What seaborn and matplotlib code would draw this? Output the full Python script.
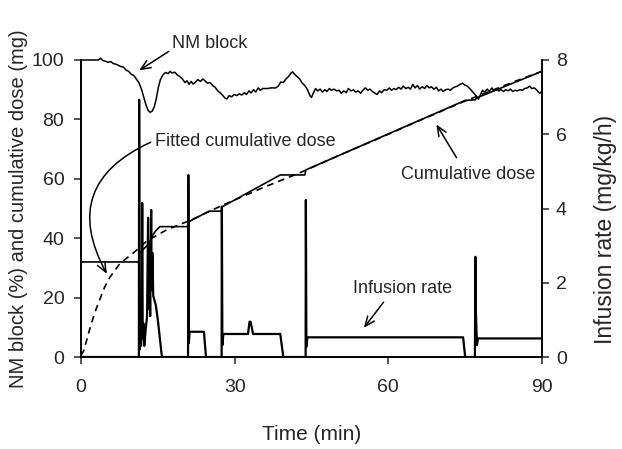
import numpy as np
import pandas as pd
import matplotlib
matplotlib.use("Agg")
import matplotlib.pyplot as plt
import seaborn as sns

# ---- data ----
# NM block (%), left axis
nm_time = [0, 3.4, 3.8, 4.3, 4.8, 5.3, 5.8, 6.3, 6.8, 7.3, 7.8, 8.3, 8.8, 9.3, 9.8, 10.3,
           10.8, 11.3, 11.8, 12.3, 12.7, 13.1, 13.5, 13.9, 14.3, 14.7, 15.1, 15.5, 16.0,
           16.5, 17.0, 17.4, 17.8, 18.3, 18.8, 19.3, 19.8, 20.3, 20.7, 21.1, 21.5, 21.9,
           22.4, 22.8, 23.3, 23.8, 24.2, 24.7, 25.2, 25.7, 26.2, 26.7, 27.2, 27.6, 28.1,
           28.5, 28.9, 29.4, 29.9, 30.4, 30.9, 31.4, 31.9, 32.3, 32.8, 33.2, 33.7, 34.1,
           34.6, 35.0, 35.5, 36.0, 36.5, 37.0, 37.5, 38.0, 38.5, 39.0, 39.5, 40.0, 40.5,
           41.0, 41.3, 41.7, 42.2, 42.7, 43.2, 43.7, 44.2, 44.7, 45.0, 45.4, 45.8, 46.2,
           46.7, 47.1, 47.6, 48.0, 48.5, 48.9, 49.4, 49.9, 50.4, 50.8, 51.3, 51.8, 52.2,
           52.7, 53.2, 53.6, 54.1, 54.6, 55.0, 55.5, 56.0, 56.4, 56.9, 57.4, 57.8, 58.3,
           58.7, 59.2, 59.7, 60.2, 60.6, 61.1, 61.5, 62.0, 62.5, 62.9, 63.4, 63.9, 64.3,
           64.8, 65.2, 65.7, 66.1, 66.6, 67.1, 67.5, 68.0, 68.4, 68.9, 69.4, 69.8, 70.3,
           70.7, 71.2, 71.7, 72.1, 72.6, 73.1, 73.5, 74.0, 74.5, 74.9, 75.4, 75.9, 76.3,
           76.8, 77.2, 77.6, 78.0, 78.4, 78.8, 79.3, 79.7, 80.2, 80.6, 81.1, 81.5, 82.0,
           82.5, 82.9, 83.4, 83.8, 84.3, 84.8, 85.2, 85.7, 86.2, 86.6, 87.1, 87.6, 88.0,
           88.5, 88.9, 89.3, 89.6, 90.0]
nm_block = [100, 100, 100.6, 99.8, 99.6, 99.2, 99.5, 98.8, 98.6, 98.2, 97.8, 97.6, 96.6,
            96.2, 95.2, 94.8, 93.6, 92.4, 90.2, 87.2, 84.8, 83.0, 82.4, 82.8, 84.2, 87.0,
            90.8, 93.4, 95.0, 95.8, 95.4, 96.2, 95.6, 95.9, 95.0, 94.4, 93.6, 92.4, 93.0,
            91.8, 92.8, 91.9, 92.6, 93.4, 92.8, 93.6, 93.0, 92.2, 92.4, 91.4, 90.8, 89.6,
            88.9, 88.2, 87.2, 86.9, 88.0, 87.6, 88.4, 88.0, 88.6, 88.2, 89.0, 88.4, 89.6,
            88.9, 90.0, 89.2, 90.6, 89.8, 90.4, 90.4, 90.4, 90.6, 90.6, 90.6, 91.2, 92.6,
            92.4, 93.6, 94.4, 95.6, 96.0, 95.2, 94.4, 93.6, 92.2, 91.4, 90.0, 88.0, 87.4,
            89.0, 90.4, 89.6, 90.2, 89.2, 90.0, 89.4, 90.4, 89.8, 90.2, 89.6, 89.8, 88.8,
            89.6, 89.0, 90.4, 89.6, 90.0, 89.2, 89.6, 88.8, 89.8, 90.6, 89.8, 90.2, 89.4,
            88.8, 88.4, 89.6, 89.0, 90.0, 89.8, 90.6, 89.8, 90.4, 90.0, 90.8, 90.2, 91.2,
            90.4, 90.8, 90.2, 91.8, 90.6, 91.4, 90.2, 91.0, 90.4, 91.4, 90.6, 91.0, 90.2,
            90.8, 89.6, 90.2, 89.4, 90.0, 90.2, 89.8, 90.6, 91.0, 91.2, 91.8, 92.2, 91.6,
            91.2, 90.4, 89.6, 88.6, 87.8, 86.8, 88.4, 89.8, 89.2, 90.2, 89.4, 90.6, 89.6,
            90.2, 89.6, 90.0, 89.4, 90.0, 89.6, 90.2, 89.4, 89.8, 89.6, 90.0, 89.8, 90.4,
            90.6, 91.2, 90.4, 90.6, 90.0, 89.2, 88.8, 89.6]

# cumulative dose (mg), left axis
cum_time = [0, 11.35, 11.45, 12.3, 13.2, 14.0, 14.6, 15.4, 20.9, 21.1, 25.0, 27.4, 27.6,
            38.9, 43.7, 43.9, 75.0, 77.0, 77.2, 90]
cum_dose = [32, 32, 35, 36.5, 38, 41, 42.5, 43.9, 43.9, 45.6, 49.1, 49.1, 50.6,
            61.3, 61.3, 63.0, 86.4, 86.6, 87.2, 96.2]

# fitted cumulative dose (mg), left axis
fit_time = [0, 0.5, 1, 1.8, 2.7, 3.7, 4.6, 5.7, 7.6, 10.2, 12.8, 16.7, 21.3, 27.5, 35.5,
            42.7, 50, 55, 60, 65, 70, 75, 80, 85, 90]
fit_dose = [0.5, 2, 5, 10, 15, 19.5, 23.5, 27, 31.5, 35, 39, 42.8, 46, 51, 57,
            62, 67.6, 71.3, 75, 78.8, 82.5, 86.2, 89.6, 93, 96.2]

# infusion rate (mg/kg/h), right axis
inf_time = [0, 11.3, 11.35, 11.45, 11.6, 11.7, 11.85, 11.95, 12.05, 12.2, 12.35, 12.6,
            12.9, 13.1, 13.2, 13.35, 13.5, 13.7, 13.8, 13.95, 14.1, 14.6, 15.0, 15.4, 15.8,
            20.9, 20.95, 21.05, 21.2, 21.6, 24.0, 24.4,
            27.45, 27.5, 27.6, 27.8, 28.1, 32.6, 32.9, 33.1, 33.6, 38.9, 39.5,
            43.85, 43.9, 44.0, 44.2, 44.7, 74.6, 75.0,
            76.9, 77.0, 77.1, 77.3, 77.5, 77.8, 90]
inf_rate = [0, 0, 6.93, 0.2, 0.9, 0.3, 0.6, 4.15, 0.5, 0.9, 0.3, 0.7,
            1.1, 3.75, 1.3, 3.0, 1.1, 3.96, 1.8, 2.8, 1.65, 1.4, 1.0, 0.5, 0,
            0, 4.9, 0.37, 0.68, 0.68, 0.68, 0,
            0, 4.05, 0.32, 0.62, 0.62, 0.62, 0.95, 0.95, 0.62, 0.62, 0,
            0, 4.23, 0.28, 0.53, 0.53, 0.53, 0,
            0, 2.7, 1.2, 0.32, 0.5, 0.5, 0.5]

# ---- plot ----
sns.set_style("ticks")
plt.rcParams['font.family'] = ['Liberation Sans', 'DejaVu Sans']

fig = plt.figure(figsize=(6.22, 4.49), dpi=100)
ax = fig.add_axes([81 / 622, 1 - 357 / 449, 461 / 622, 297 / 449])
ax2 = ax.twinx()

sns.lineplot(x=nm_time, y=nm_block, ax=ax, color='black', lw=1.1,
             estimator=None, sort=False, clip_on=False)
sns.lineplot(x=cum_time, y=cum_dose, ax=ax, color='black', lw=1.2,
             estimator=None, sort=False)
sns.lineplot(x=fit_time, y=fit_dose, ax=ax, color='black', lw=1.2,
             estimator=None, sort=False, linestyle=(0, (4, 3)))
sns.lineplot(x=inf_time, y=inf_rate, ax=ax2, color='black', lw=1.6,
             estimator=None, sort=False)

ax.set_xlim(0, 90)
ax.set_ylim(0, 100)
ax2.set_ylim(0, 8)
ax.set_xticks([0, 30, 60, 90])
ax.set_yticks([0, 20, 40, 60, 80, 100])
ax2.set_yticks([0, 2, 4, 6, 8])

for a in (ax, ax2):
    a.spines['top'].set_visible(False)
    for s in a.spines.values():
        s.set_linewidth(1.2)
        s.set_color('black')
ax.tick_params(axis='x', direction='out', length=5, width=1.1, pad=11, labelsize=14)
ax.tick_params(axis='y', direction='out', length=5, width=1.1, pad=7, labelsize=14)
ax2.tick_params(axis='y', direction='out', length=5, width=1.1, pad=5, labelsize=14)

ax.set_xlabel('Time (min)', fontsize=15, labelpad=21)
ax.set_ylabel('NM block (%) and cumulative dose (mg)', fontsize=14.5, labelpad=3)
ax2.set_ylabel('Infusion rate (mg/kg/h)', fontsize=16.5)
ax2.yaxis.set_label_coords(1.112, 0.43)

arrow = dict(arrowstyle='->,head_length=0.7,head_width=0.3', color='black', lw=1.1)

ax.text(25.2, 105.7, 'NM block', fontsize=13, ha='center', va='center')
ax.annotate('', xy=(10.9, 96), xytext=(17.6, 103.4), arrowprops=arrow,
            annotation_clip=False)

ax.text(14.5, 72.7, 'Fitted cumulative dose', fontsize=13, ha='left', va='center')
ax.annotate('', xy=(5.3, 27.2), xytext=(14.1, 72.7),
            arrowprops=dict(arrow, connectionstyle='arc3,rad=0.55'))

ax.text(75.6, 61.6, 'Cumulative dose', fontsize=13, ha='center', va='center')
ax.annotate('', xy=(69.1, 79.1), xytext=(73.6, 66.3), arrowprops=arrow)

ax.text(62.7, 22.9, 'Infusion rate', fontsize=13, ha='center', va='center')
ax.annotate('', xy=(54.9, 9.1), xytext=(59.4, 19.2), arrowprops=arrow)

fig.savefig('out.png', dpi=100)
